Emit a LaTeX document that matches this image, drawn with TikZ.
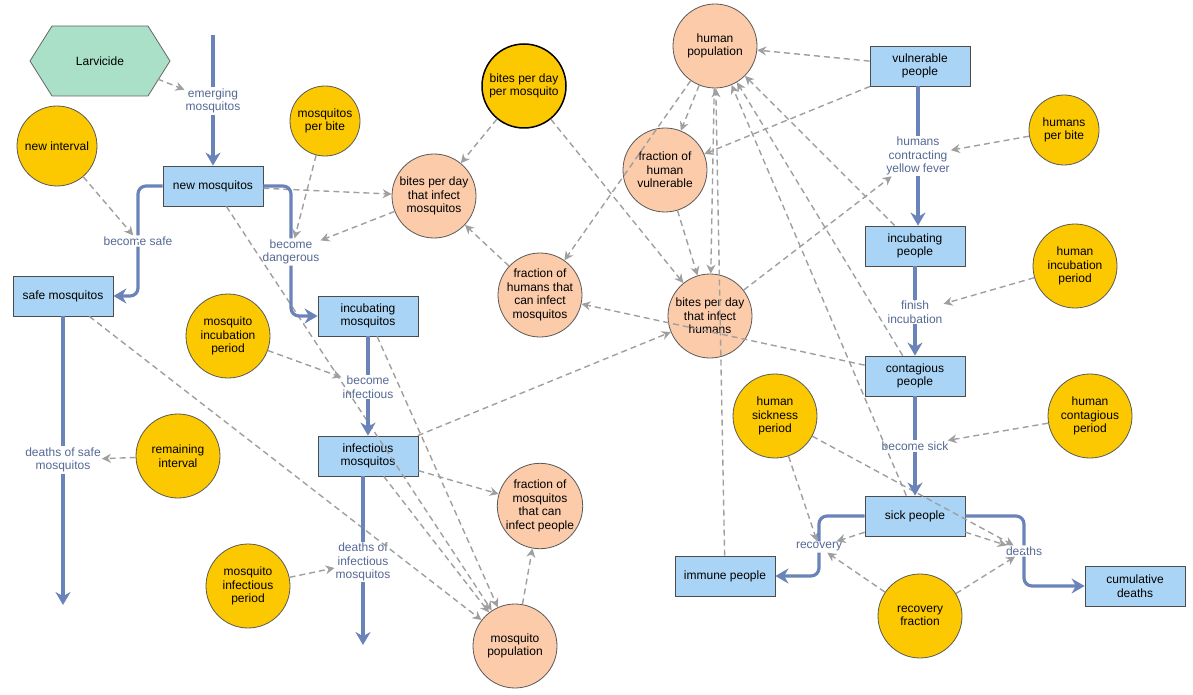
\documentclass[tikz,border=0pt]{standalone}
\usepackage{fontspec}
\setmainfont{Liberation Sans}
\usetikzlibrary{arrows.meta}
\definecolor{flowblue}{HTML}{6A83B9}
\definecolor{boxblue}{HTML}{A9D4F5}
\definecolor{param}{HTML}{FCC800}
\definecolor{aux}{HTML}{FBCBAA}
\definecolor{larv}{HTML}{AADFC8}
\begin{document}
\begin{tikzpicture}[x=1pt,y=-1pt,font=\fontsize{12}{13.5}\selectfont]
    \tikzstyle{stock}=[draw=black!70,thick,fill=boxblue,minimum width=100pt,minimum height=40pt,align=center,inner sep=1pt]
    \tikzstyle{param}=[circle,draw=black!65,thick,fill=param,minimum size=84pt,inner sep=0pt,align=center]
    \tikzstyle{aux}=[circle,draw=black!65,thick,fill=aux,minimum size=84pt,inner sep=0pt,align=center]
    \tikzstyle{rate}=[fill=white,text=flowblue!80!black,align=center,inner sep=1pt]
    \tikzstyle{flow}=[draw=flowblue,line width=3.2pt,rounded corners=8pt,-{Stealth[length=13pt,width=15pt]}]
    \tikzstyle{link}=[draw=gray!75,line width=1.4pt,dash pattern=on 6pt off 4pt,-{Stealth[length=9pt,width=9pt]}]
    \useasboundingbox (0,0) rectangle (1193,695);
    % mosquitos
    \draw[thick,draw=black!60,fill=larv] (30,61) -- (52,26) -- (148,26) -- (170,61) -- (148,96) -- (52,96) -- cycle;
    \node (larvicide) at (100,61) {Larvicide};
    \node (newint)[param,minimum size=80pt] at (57,146) {new interval};
    \node (mpb)[param,minimum size=70pt] at (325,121) {mosquitos\\per bite};
    \node (bpdpm)[param,draw=black,line width=1.5pt] at (524,86) {bites per day\\per mosquito};
    \node (bim)[aux] at (434,196) {bites per day\\that infect\\mosquitos};
    \node (fhim)[aux] at (540,295) {fraction of\\humans that\\can infect\\mosquitos};
    \node (newmos)[stock] at (213,186) {new mosquitos};
    \node (safemos)[stock] at (63,296) {safe mosquitos};
    \node (incmos)[stock] at (368,316) {incubating\\mosquitos};
    \node (mip)[param] at (228,336) {mosquito\\incubation\\period};
    \node (infmos)[stock] at (368,456) {infectious\\mosquitos};
    \node (remint)[param] at (178,456) {remaining\\interval};
    \node (mifp)[param] at (248,586) {mosquito\\infectious\\period};
    \node (fmip)[aux] at (540,506) {fraction of\\mosquitos\\that can\\infect people};
    \node (mospop)[aux] at (515,646) {mosquito\\population};
    \coordinate (src) at (213,35);
    \coordinate (sink1) at (63,605);
    \coordinate (sink2) at (363,645);
    \node (emerge)[rate] at (213,101) {emerging\\mosquitos};
    \node (bsafe)[rate] at (138,241) {become safe};
    \node (bdang)[rate] at (291,252) {become\\dangerous};
    \node (binf)[rate] at (368,387) {become\\infectious};
    \node (dsafe)[rate] at (63,460) {deaths of safe\\mosquitos};
    \node (dinf)[rate] at (363,562) {deaths of\\infectious\\mosquitos};
    % humans
    \node (humpop)[aux] at (715,46) {human\\population};
    \node (fhv)[aux] at (665,170) {fraction of\\human\\vulnerable};
    \node (bih)[aux] at (710,316) {bites per day\\that infect\\humans};
    \node (vulpeo)[stock] at (920,66) {vulnerable\\people};
    \node (hpb)[param,minimum size=70pt] at (1064,130) {humans\\per bite};
    \node (incpeo)[stock] at (915,246) {incubating\\people};
    \node (hip)[param] at (1075,266) {human\\incubation\\period};
    \node (conpeo)[stock] at (915,376) {contagious\\people};
    \node (hsp)[param] at (775,416) {human\\sickness\\period};
    \node (hcp)[param] at (1090,416) {human\\contagious\\period};
    \node (sickpeo)[stock] at (915,516) {sick people};
    \node (immpeo)[stock] at (725,576) {immune people};
    \node (cumdea)[stock] at (1135,586) {cumulative\\deaths};
    \node (recfr)[param] at (920,616) {recovery\\fraction};
    \node (hcyf)[rate] at (918,156) {humans\\contracting\\yellow fever};
    \node (finc)[rate] at (915,312) {finish\\incubation};
    \node (bsick)[rate] at (915,446) {become sick};
    \node (recov)[rate] at (819,547) {recovery};
    \node (deaths)[rate] at (1024,551) {deaths};
    % links
    \draw[link] (larvicide.east) ++(30,18) -- (emerge);
    \draw[link] (newint) -- (bsafe);
    \draw[link] (mpb) -- (bdang);
    \draw[link] (bpdpm) -- (bim);
    \draw[link] (bpdpm) -- (bih);
    \draw[link] (newmos) -- (bim);
    \draw[link] (bim) -- (bdang);
    \draw[link] (fhim) -- (bim);
    \draw[link] (newmos) -- (mospop);
    \draw[link] (safemos) -- (mospop);
    \draw[link] (incmos) -- (mospop);
    \draw[link] (infmos) -- (mospop);
    \draw[link] (mip) -- (binf);
    \draw[link] (remint) -- (dsafe);
    \draw[link] (mifp) -- (dinf);
    \draw[link] (infmos) -- (fmip);
    \draw[link] (mospop) -- (fmip);
    \draw[link] (infmos) -- (bih);
    \draw[link] (humpop) -- (fhv);
    \draw[link] (humpop) -- (fhim);
    \draw[link] (humpop) -- (bih);
    \draw[link] (vulpeo) -- (humpop);
    \draw[link] (vulpeo) -- (fhv);
    \draw[link] (fhv) -- (bih);
    \draw[link] (immpeo) -- (humpop);
    \draw[link] (incpeo) -- (humpop);
    \draw[link] (conpeo) -- (humpop);
    \draw[link] (sickpeo) -- (humpop);
    \draw[link] (conpeo) -- (fhim);
    \draw[link] (hpb) -- (hcyf);
    \draw[link] (bih) -- (hcyf);
    \draw[link] (hip) -- (finc);
    \draw[link] (hcp) -- (bsick);
    \draw[link] (hsp) -- (recov);
    \draw[link] (hsp) -- (deaths);
    \draw[link] (sickpeo) -- (recov);
    \draw[link] (sickpeo) -- (deaths);
    \draw[link] (recfr) -- (recov);
    \draw[link] (recfr) -- (deaths);
    % flows
    \draw[flow] (src) -- (emerge) -- (newmos);
    \draw[flow] (newmos.west) -| (bsafe) |- (safemos.east);
    \draw[flow] (newmos.east) -| (bdang) |- (incmos.west);
    \draw[flow] (incmos) -- (binf) -- (infmos);
    \draw[flow] (safemos) -- (dsafe) -- (sink1);
    \draw[flow] (infmos.south -| dinf) -- (dinf) -- (sink2);
    \draw[flow] (vulpeo.south -| hcyf) -- (hcyf) -- (incpeo.north -| hcyf);
    \draw[flow] (incpeo) -- (finc) -- (conpeo);
    \draw[flow] (conpeo) -- (bsick) -- (sickpeo);
    \draw[flow] (sickpeo.west) -| (recov) |- (immpeo.east);
    \draw[flow] (sickpeo.east) -| (deaths) |- (cumdea.west);
    % redraw labels on top
    \foreach \n in {emerge,bsafe,bdang,binf,dsafe,dinf,hcyf,finc,bsick,recov,deaths}
        \node[rate] at (\n) {};
\end{tikzpicture}
\end{document}
